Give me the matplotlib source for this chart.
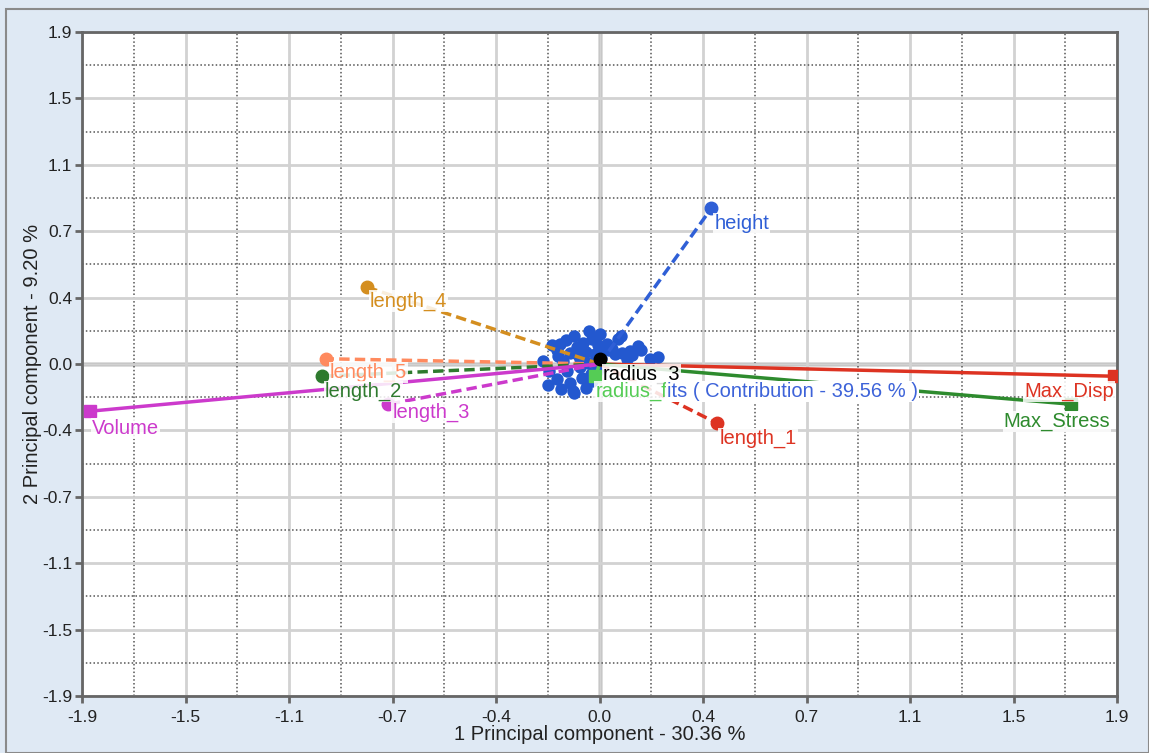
import numpy as np
import matplotlib.pyplot as plt
from matplotlib.patches import Rectangle

plt.rcParams['font.family'] = ['Liberation Sans', 'DejaVu Sans']

# loading vectors (end points)
var_names = ['height', 'length_4', 'length_5', 'length_2', 'length_3', 'Volume',
             'length_1', 'Max_Disp', 'Max_Stress', 'radius_3', 'radius_fits']
var_x = [0.41, -0.855, -1.006, -1.02, -0.775, -1.87, 0.433, 1.89, 1.73, 0.0, -0.015]
var_y = [0.89, 0.44, 0.03, -0.07, -0.23, -0.27, -0.34, -0.07, -0.23, 0.03, -0.07]

# observations (scores)
obs_x = [-0.037, -0.092, -0.029, -0.062, -0.081, -0.147, -0.110, -0.048, -0.018, 0.026,
         0.044, 0.066, 0.084, 0.055, 0.110, 0.140, 0.154, 0.213, 0.184, 0.099,
         0.000, 0.007, -0.073, -0.044, -0.084, -0.136, -0.209, -0.158, -0.110, -0.099,
         -0.066, -0.121, -0.026, -0.011, -0.184, -0.140, -0.048, -0.158, -0.154, -0.092,
         0.077, 0.033, -0.190, -0.176, -0.070, 0.020, -0.125, 0.120, -0.005, -0.030]
obs_y = [0.189, 0.160, 0.143, 0.120, 0.097, 0.114, 0.063, 0.069, 0.057, 0.114,
         0.086, 0.143, 0.063, 0.057, 0.074, 0.103, 0.080, 0.040, 0.029, 0.029,
         0.172, 0.034, 0.029, 0.006, 0.057, 0.017, 0.017, -0.086, -0.109, -0.155,
         -0.080, -0.040, -0.097, -0.040, -0.040, -0.143, -0.137, 0.080, 0.046, -0.166,
         0.160, 0.080, -0.120, 0.110, -0.020, 0.090, 0.140, 0.050, 0.110, -0.060]

tick_vals = np.linspace(-1.9, 1.9, 11)
x_tick_labels = ['-1.9', '-1.5', '-1.1', '-0.7', '-0.4', '0.0', '0.4', '0.7', '1.1', '1.5', '1.9']
y_tick_labels = ['-1.9', '-1.5', '-1.1', '-0.7', '-0.4', '0.0', '0.4', '0.7', '1.1', '1.5', '1.9']

# style per vector: colour, line style, marker, label offset (pixels)
styles = {
    'height':      ('#2f5fd6', '--', 'o', (3, -15)),
    'length_4':    ('#d48e1f', '--', 'o', (3, -14)),
    'length_5':    ('#ff8a5e', '--', 'o', (4, -14)),
    'length_2':    ('#2e7a2e', '--', 'o', (3, -15)),
    'length_3':    ('#cc3acc', '--', 'o', (4, -8)),
    'Volume':      ('#cc3acc', '-', 's', (2, -17)),
    'length_1':    ('#dd3322', '--', 'o', (2, -15)),
    'Max_Disp':    ('#dd3322', '-', 's', (-90, -15)),
    'Max_Stress':  ('#2e8b2e', '-', 's', (-67, -17)),
    'radius_3':    ('#000000', '-', 'o', (3, -16)),
    'radius_fits': ('#55cc55', '--', 's', (0, -15)),
}

fig = plt.figure(figsize=(11.49, 7.53), dpi=100)
fig.patch.set_facecolor('#dfe9f4')
fig.patches.append(Rectangle((0.005, 0.0), 0.995, 0.988, transform=fig.transFigure,
                             fill=False, edgecolor='#8a8a8a', linewidth=1.5))
ax = fig.add_axes([0.0714, 0.0757, 0.9008, 0.8818])
ax.set_facecolor('white')
ax.set_xlim(-1.9, 1.9)
ax.set_ylim(-1.9, 1.9)

ax.set_xticks(tick_vals)
ax.set_xticklabels(x_tick_labels)
ax.set_yticks(tick_vals)
ax.set_yticklabels(y_tick_labels)
minor = (tick_vals[:-1] + tick_vals[1:]) / 2
ax.set_xticks(minor, minor=True)
ax.set_yticks(minor, minor=True)
ax.grid(True, which='major', color='#d2d2d2', linewidth=2, zorder=0)
ax.grid(True, which='minor', color='#555555', linestyle=(0, (1, 1.5)), linewidth=1.1, zorder=0)
ax.tick_params(which='major', direction='out', length=5, width=2, color='#666666',
               labelsize=12.5, labelcolor='#222222')
ax.tick_params(axis='x', which='major', pad=5)
ax.tick_params(axis='y', which='major', pad=2)
ax.tick_params(which='minor', length=0)
for s in ax.spines.values():
    s.set_color('#666666')
    s.set_linewidth(2)

ax.axhline(0, color='#707070', linewidth=2.5, zorder=1)
ax.axvline(0, color='#707070', linewidth=2.5, zorder=1)

ax.scatter(obs_x, obs_y, s=80, color='#2358cf', zorder=3, linewidths=0)

for name, vx, vy in zip(var_names, var_x, var_y):
    col, ls, mk, off = styles[name]
    ax.plot([0, vx], [0, vy], color=col, linestyle=ls, linewidth=2.5, zorder=4,
            dashes=(3, 1.5) if ls == '--' else (None, None))
    ax.plot(vx, vy, marker=mk, color=col, markersize=9, zorder=5)

texts = {}
for name, vx, vy in zip(var_names, var_x, var_y):
    col, ls, mk, off = styles[name]
    label = 'radius_f' if name == 'radius_fits' else name
    texts[name] = ax.annotate(label, (vx, vy), xytext=off, textcoords='offset pixels',
                              color=col, fontsize=14.5, va='center', ha='left', zorder=6,
                              annotation_clip=False, clip_on=True,
                              bbox=dict(boxstyle='square,pad=0.05', fc='white', ec='none',
                                        alpha=0.85))

ax.annotate('its ( Contribution - 39.56 % )', xy=(1.0, 0.5), xycoords=texts['radius_fits'],
            color='#3d63d9', fontsize=14.5, va='center', ha='left', zorder=6,
            bbox=dict(boxstyle='square,pad=0.05', fc='white', ec='none'))

ax.set_xlabel('1 Principal component - 30.36 %', fontsize=14.5, color='#222222', labelpad=0)
ax.set_ylabel('2 Principal component - 9.20 %', fontsize=14.5, color='#222222', labelpad=0)

fig.savefig('out.png', dpi=100, facecolor=fig.get_facecolor())
